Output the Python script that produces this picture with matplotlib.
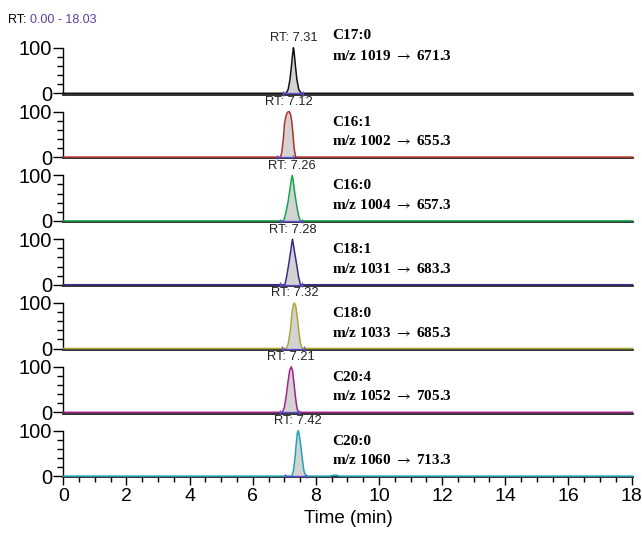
import numpy as np
import matplotlib
matplotlib.use("Agg")
import matplotlib.pyplot as plt
from matplotlib.ticker import MultipleLocator

plt.rcParams['font.family'] = ['Liberation Sans', 'DejaVu Sans']
plt.rcParams['mathtext.fontset'] = 'stix'

# compounds, transitions and apex retention times
names = ["C17:0", "C16:1", "C16:0", "C18:1", "C18:0", "C20:4", "C20:0"]
precursors = [1019, 1002, 1004, 1031, 1033, 1052, 1060]
products = [671.3, 655.3, 657.3, 683.3, 685.3, 705.3, 713.3]
rt_labels = [7.31, 7.12, 7.26, 7.28, 7.32, 7.21, 7.42]
colors = ["#111111", "#b5302a", "#14a44a", "#3a2a8c", "#a9a832", "#a3208f", "#1fa5b8"]

# peak profiles (time in min, relative abundance)
peak_t = [
    [7.06, 7.12, 7.18, 7.23, 7.27, 7.29, 7.31, 7.35, 7.40, 7.46, 7.54],
    [6.88, 6.92, 6.97, 7.01, 7.06, 7.11, 7.15, 7.19, 7.23, 7.27, 7.31, 7.36],
    [6.98, 7.05, 7.12, 7.18, 7.22, 7.25, 7.28, 7.33, 7.39, 7.45, 7.51],
    [7.02, 7.08, 7.14, 7.20, 7.24, 7.26, 7.28, 7.33, 7.39, 7.45, 7.51],
    [7.07, 7.13, 7.19, 7.24, 7.28, 7.32, 7.36, 7.41, 7.46, 7.51, 7.57],
    [6.94, 7.00, 7.06, 7.12, 7.17, 7.22, 7.26, 7.31, 7.36, 7.40, 7.44],
    [7.24, 7.29, 7.34, 7.38, 7.41, 7.44, 7.47, 7.52, 7.57, 7.62, 7.68],
]
peak_y = [
    [0, 8, 30, 62, 90, 100, 92, 62, 30, 8, 0],
    [0, 10, 40, 75, 92, 99, 100, 96, 82, 55, 20, 0],
    [0, 18, 42, 70, 90, 100, 90, 62, 35, 12, 0],
    [0, 20, 45, 72, 92, 100, 92, 70, 45, 18, 0],
    [0, 12, 40, 75, 95, 100, 94, 70, 38, 12, 0],
    [0, 10, 35, 68, 92, 100, 92, 62, 30, 10, 0],
    [0, 12, 40, 72, 93, 100, 93, 68, 38, 12, 0],
]
# integration limits (start, end)
integ = [(6.95, 7.60), (6.78, 7.28), (6.88, 7.57), (6.88, 7.57),
         (6.94, 7.61), (6.88, 7.47), (7.02, 7.69)]
# small bump after the C20:0 peak
bump_t = [8.45, 8.55, 8.65, 8.75]
bump_y = [0, 2, 2, 0]

t_end = 18.03
W, H = 642, 539
fig = plt.figure(figsize=(W / 100, H / 100), dpi=100)

x0, x1 = 63.3, 632.5
unit = 0.455  # px per % abundance
ylo, yhi = -3, 103
mk = "#5a4fcf"
serif = ['Liberation Serif', 'DejaVu Serif']

for i in range(7):
    zy = 93.3 + 63.8 * i
    bpx = zy - ylo * unit
    tpx = zy - yhi * unit
    ax = fig.add_axes([x0 / W, 1 - bpx / H, (x1 - x0) / W, (bpx - tpx) / H])
    ax.set_xlim(0, t_end)
    ax.set_ylim(ylo, yhi)
    ax.patch.set_alpha(0)

    tt = [0] + peak_t[i] + [t_end]
    yy = [0] + peak_y[i] + [0]
    if i == 6:
        tt = [0] + peak_t[i] + bump_t + [t_end]
        yy = [0] + peak_y[i] + bump_y + [0]
    ax.fill_between(peak_t[i], peak_y[i], 0, color="#d3d3d3", lw=0, zorder=1)
    ax.plot(tt, yy, color=colors[i], lw=1.1, zorder=3, clip_on=False)

    s, e = integ[i]
    ax.plot([s, e], [0, 0], color=mk, lw=1.0, zorder=4, clip_on=False)
    ax.vlines([s, e], -5, 5, color=mk, lw=1.0, zorder=4, clip_on=False)

    apex = peak_t[i][int(np.argmax(peak_y[i]))]
    ax.text(apex, 121, f"RT: {rt_labels[i]:.2f}", ha='center', va='center',
            fontsize=9.3, color="#222222")
    if i == 0:
        ny, my = 127, 81
    else:
        ny, my = 77, 35
    ax.text(8.52, ny, names[i], ha='left', va='center', fontsize=11,
            fontweight='bold', family=serif)
    ax.text(8.52, my, f"m/z {precursors[i]} $\\rightarrow$ {products[i]:.1f}",
            ha='left', va='center', fontsize=11, fontweight='bold', family=serif)

    for sp in ['top', 'right']:
        ax.spines[sp].set_visible(False)
    ax.spines['left'].set_bounds(0, 100)
    ax.spines['left'].set_linewidth(1.0)
    ax.spines['bottom'].set_color("#222222")
    ax.spines['bottom'].set_linewidth(1.3)

    ax.set_yticks([0, 100])
    ax.set_yticklabels(["0", "100"])
    ax.yaxis.set_minor_locator(MultipleLocator(20))
    ax.tick_params(axis='y', which='major', length=7.2, width=1.0, pad=1, labelsize=14.5)
    ax.tick_params(axis='y', which='minor', length=4.3, width=1.0)

    if i < 6:
        ax.set_xticks([])
        ax.tick_params(axis='x', which='both', length=0, labelbottom=False)
    else:
        ax.xaxis.set_major_locator(MultipleLocator(2))
        ax.xaxis.set_minor_locator(MultipleLocator(0.5))
        ax.tick_params(axis='x', which='major', length=6, width=1.0, pad=1.5, labelsize=14)
        ax.tick_params(axis='x', which='minor', length=3.6, width=1.0)
        ax.set_xlabel("Time (min)", fontsize=13.5, labelpad=4)

t1 = fig.text(8 / W, 1 - 20 / H, "RT: ", fontsize=9, va='center', ha='left')
fig.canvas.draw()
bb = t1.get_window_extent()
fig.text(bb.x1 / W, 1 - 20 / H, "0.00 - 18.03", fontsize=9, va='center', ha='left',
         color="#5b3fa0")

fig.savefig("out.png", dpi=100)
